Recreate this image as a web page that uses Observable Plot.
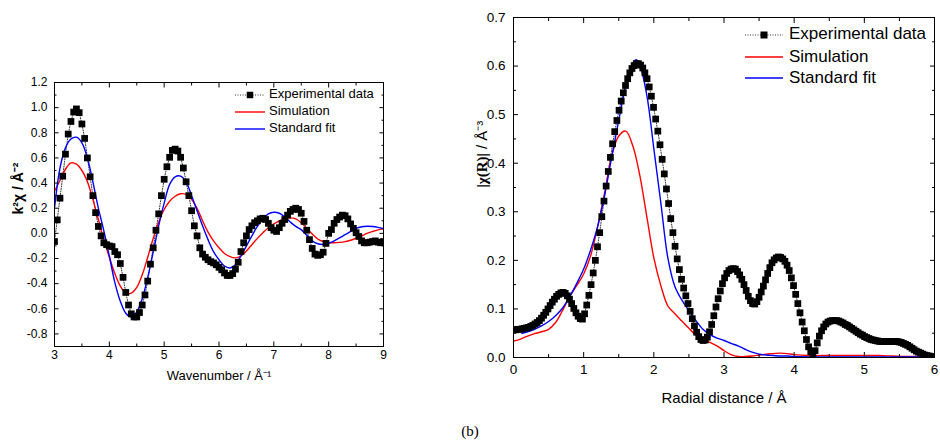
<!DOCTYPE html>
<html><head><meta charset="utf-8">
<script src="https://cdn.jsdelivr.net/npm/d3@7"></script>
<script src="https://cdn.jsdelivr.net/npm/@observablehq/plot@0.6"></script>
<style>
body{margin:0;background:#fff;}
#wrap{position:relative;width:940px;height:441px;overflow:hidden;background:#fff;font-family:"Liberation Sans",Arial,sans-serif;color:#000;}
.panel{position:absolute;top:0;}
#left{left:0px;} #right{left:470px;}
.lg{position:absolute;white-space:nowrap;line-height:1.15;}
#caption{position:absolute;left:0;width:940px;text-align:center;top:423px;font-family:"Liberation Serif","DejaVu Serif",serif;font-size:15px;}
</style></head>
<body>
<div id="wrap">
  <div id="left" class="panel"></div>
  <div id="right" class="panel"></div>
  <div id="caption">(b)</div>
</div>
<script>
// ---------- Left panel: k-space (k from 3 to 9) ----------
const kExpStart = 3.0, kExpStep = 0.05;
const kExpY = [
 -0.065, 0.107, 0.28, 0.455, 0.63, 0.79, 0.89, 0.965, 0.99, 0.96,
 0.87, 0.755, 0.60, 0.45, 0.30, 0.165, 0.055, -0.02, -0.075, -0.09,
 -0.10, -0.105, -0.145, -0.17, -0.24, -0.35, -0.47, -0.57, -0.64, -0.665,
 -0.665, -0.63, -0.57, -0.49, -0.38, -0.245, -0.115, 0.025, 0.155, 0.30,
 0.43, 0.53, 0.605, 0.66, 0.67, 0.655, 0.605, 0.52, 0.41, 0.30,
 0.18, 0.06, -0.02, -0.115, -0.165, -0.19, -0.21, -0.225, -0.235, -0.25,
 -0.27, -0.29, -0.315, -0.335, -0.335, -0.32, -0.285, -0.23, -0.145, -0.075,
 -0.02, 0.03, 0.06, 0.085, 0.10, 0.115, 0.12, 0.11, 0.08, 0.045,
 0.025, 0.015, 0.045, 0.08, 0.11, 0.145, 0.175, 0.19, 0.20, 0.19,
 0.16, 0.095, 0.025, -0.05, -0.12, -0.165, -0.175, -0.17, -0.15, -0.08,
 0.0, 0.03, 0.08, 0.11, 0.13, 0.145, 0.14, 0.115, 0.075, 0.04,
 0.005, -0.025, -0.06, -0.075, -0.075, -0.07, -0.065, -0.06, -0.07, -0.075,
 -0.065
];
const kLineStart = 3.0, kLineStep = 0.1;
const kSimY = [
 0.335, 0.42, 0.51, 0.56, 0.55, 0.50, 0.41, 0.27, 0.11, -0.05,
 -0.19, -0.32, -0.42, -0.475, -0.475, -0.43, -0.33, -0.19, -0.04, 0.09,
 0.19, 0.255, 0.295, 0.315, 0.31, 0.27, 0.20, 0.10, 0.01, -0.06,
 -0.115, -0.16, -0.185, -0.195, -0.18, -0.14, -0.09, -0.04, 0.005, 0.045,
 0.075, 0.10, 0.117, 0.123, 0.115, 0.085, 0.04, -0.005, -0.045, -0.065,
 -0.073, -0.075, -0.072, -0.066, -0.055, -0.038, -0.02, 0.0, 0.015, 0.028,
 0.038
];
const kFitY = [
 0.20, 0.52, 0.68, 0.75, 0.765, 0.72, 0.60, 0.41, 0.20, 0.02,
 -0.18, -0.39, -0.54, -0.635, -0.665, -0.625, -0.52, -0.35, -0.15, 0.06,
 0.24, 0.39, 0.45, 0.455, 0.41, 0.30, 0.18, 0.06, -0.05, -0.145,
 -0.21, -0.26, -0.275, -0.25, -0.18, -0.10, -0.02, 0.055, 0.115, 0.155,
 0.168, 0.16, 0.13, 0.09, 0.055, 0.03, -0.015, -0.06, -0.083, -0.089,
 -0.08, -0.06, -0.036, -0.01, 0.015, 0.04, 0.053, 0.057, 0.055, 0.048,
 0.038
];
const kXMajor = [3, 4, 5, 6, 7, 8, 9];
const kXMinor = [3.5, 4.5, 5.5, 6.5, 7.5, 8.5];
const kYMajor = [-0.8, -0.6, -0.4, -0.2, 0.0, 0.2, 0.4, 0.6, 0.8, 1.0, 1.2];
const kYMinor = [-0.9, -0.7, -0.5, -0.3, -0.1, 0.1, 0.3, 0.5, 0.7, 0.9, 1.1];

// ---------- Right panel: R-space (R from 0 to 6) ----------
const rExpStart = 0.0, rExpStep = 0.0307;
const rExpY = [
 0.057, 0.057, 0.058, 0.058, 0.059, 0.060, 0.061, 0.062, 0.064, 0.066,
 0.069, 0.072, 0.076, 0.081, 0.087, 0.093, 0.100, 0.107, 0.114, 0.120,
 0.126, 0.130, 0.133, 0.134, 0.132, 0.127, 0.120, 0.111, 0.101, 0.092,
 0.085, 0.080, 0.079, 0.090, 0.108, 0.128, 0.150, 0.174, 0.200, 0.228,
 0.257, 0.290, 0.322, 0.353, 0.383, 0.412, 0.440, 0.465, 0.488, 0.509,
 0.528, 0.545, 0.560, 0.574, 0.586, 0.595, 0.601, 0.605, 0.605, 0.602,
 0.596, 0.586, 0.574, 0.557, 0.538, 0.515, 0.491, 0.466, 0.438, 0.408,
 0.378, 0.347, 0.317, 0.286, 0.257, 0.229, 0.203, 0.181, 0.161, 0.143,
 0.127, 0.111, 0.095, 0.080, 0.065, 0.052, 0.043, 0.037, 0.035, 0.036,
 0.042, 0.053, 0.068, 0.086, 0.104, 0.121, 0.137, 0.152, 0.164, 0.173,
 0.179, 0.182, 0.183, 0.182, 0.177, 0.170, 0.161, 0.150, 0.138, 0.126,
 0.117, 0.111, 0.110, 0.115, 0.124, 0.135, 0.147, 0.160, 0.173, 0.185,
 0.195, 0.201, 0.205, 0.207, 0.206, 0.203, 0.198, 0.190, 0.179, 0.164,
 0.148, 0.130, 0.111, 0.092, 0.073, 0.055, 0.037, 0.022, 0.012, 0.008,
 0.014, 0.030, 0.044, 0.055, 0.063, 0.069, 0.073, 0.075, 0.076, 0.076,
 0.076, 0.075, 0.073, 0.071, 0.068, 0.066, 0.063, 0.060, 0.057, 0.054,
 0.051, 0.048, 0.046, 0.043, 0.041, 0.039, 0.037, 0.036, 0.035, 0.034,
 0.033, 0.033, 0.033, 0.033, 0.033, 0.033, 0.033, 0.033, 0.033, 0.032,
 0.031, 0.029, 0.027, 0.025, 0.022, 0.019, 0.016, 0.013, 0.011, 0.009,
 0.007, 0.005, 0.004, 0.003, 0.002, 0.001
];
const rSimX = [0.0,0.1,0.2,0.3,0.4,0.5,0.6,0.7,0.8,0.9,1.0,1.1,1.2,1.3,1.4,1.5,1.6,1.7,1.8,1.9,
 2.0,2.1,2.2,2.3,2.4,2.5,2.6,2.7,2.8,2.9,3.0,3.1,3.2,3.3,3.4,3.5,3.6,3.7,3.8,3.9,
 4.0,4.2,4.4,4.6,4.8,5.0,5.2,5.4,5.6,5.8,6.0];
const rSimY = [0.034,0.038,0.044,0.049,0.053,0.058,0.072,0.097,0.125,0.148,0.172,0.21,0.27,0.34,0.415,0.456,0.466,0.436,0.375,0.29,
 0.205,0.148,0.106,0.09,0.075,0.06,0.046,0.037,0.031,0.024,0.014,0.006,0.002,0.002,0.003,0.005,0.007,0.008,0.009,0.008,
 0.006,0.004,0.004,0.004,0.004,0.004,0.004,0.003,0.002,0.002,0.002];
const rFitX = [0.12,0.2,0.3,0.4,0.5,0.6,0.7,0.8,0.9,1.0,1.1,1.2,1.3,1.4,1.5,1.6,1.7,1.75,1.8,1.9,
 2.0,2.1,2.2,2.3,2.4,2.5,2.6,2.7,2.8,2.9,3.0,3.1,3.2,3.3,3.4,3.5,3.6,3.7,3.8,3.9,
 4.0,4.5,5.0,5.5,6.0];
const rFitY = [0.050,0.053,0.058,0.065,0.074,0.086,0.102,0.125,0.152,0.182,0.222,0.27,0.335,0.413,0.488,0.56,0.606,0.613,0.603,0.54,
 0.43,0.318,0.205,0.146,0.118,0.097,0.076,0.058,0.047,0.040,0.035,0.029,0.024,0.017,0.011,0.007,0.005,0.004,0.003,0.003,
 0.002,0.001,0.001,0.001,0.001];
const rXMajor = [0, 1, 2, 3, 4, 5, 6];
const rXMinor = [0.5, 1.5, 2.5, 3.5, 4.5, 5.5];
const rYMajor = [0.0, 0.1, 0.2, 0.3, 0.4, 0.5, 0.6, 0.7];
const rYMinor = [0.05, 0.15, 0.25, 0.35, 0.45, 0.55, 0.65];

const seriesNames = ["Experimental data", "Simulation", "Standard fit"];
const seriesColors = ["#333333", "#ff0000", "#0000ff"];

// ---------- build tables ----------
const kExp = kExpY.map((y, i) => ({x: kExpStart + i * kExpStep, y}));
const kSim = kSimY.map((y, i) => ({x: kLineStart + i * kLineStep, y}));
const kFit = kFitY.map((y, i) => ({x: kLineStart + i * kLineStep, y}));
const rExp = rExpY.map((y, i) => ({x: rExpStart + i * rExpStep, y}));
const rSim = rSimY.map((y, i) => ({x: rSimX[i], y}));
const rFit = rFitY.map((y, i) => ({x: rFitX[i], y}));

const FONT = "Liberation Sans, Arial, sans-serif";
const blank = () => "";

function frameAxes(o) {
  return [
    Plot.axisX(o.xMajor, {anchor: "bottom", tickSize: -o.majorLen, tickFormat: blank, label: null}),
    Plot.axisX(o.xMinor, {anchor: "bottom", tickSize: -o.minorLen, tickFormat: blank, label: null}),
    Plot.axisX(o.xMajor, {anchor: "top", tickSize: -o.majorLen, tickFormat: blank, label: null}),
    Plot.axisX(o.xMinor, {anchor: "top", tickSize: -o.minorLen, tickFormat: blank, label: null}),
    Plot.axisY(o.yMajor, {anchor: "left", tickSize: -o.majorLen, tickFormat: blank, label: null}),
    Plot.axisY(o.yMinor, {anchor: "left", tickSize: -o.minorLen, tickFormat: blank, label: null}),
    Plot.axisY(o.yMajor, {anchor: "right", tickSize: -o.majorLen, tickFormat: blank, label: null}),
    Plot.axisY(o.yMinor, {anchor: "right", tickSize: -o.minorLen, tickFormat: blank, label: null}),
    Plot.axisX(o.xMajor, {anchor: "bottom", tickSize: 0, tickPadding: o.xPad, tickFormat: o.xFmt, fontSize: o.fontSize, label: null}),
    Plot.axisY(o.yMajor, {anchor: "left", tickSize: 0, tickPadding: o.yPad, tickFormat: o.yFmt, fontSize: o.fontSize, label: null})
  ];
}

const leftPlot = Plot.plot({
  width: 470, height: 441,
  marginLeft: 54, marginRight: 87, marginTop: 82, marginBottom: 95,
  style: {fontFamily: FONT, background: "transparent", color: "black", overflow: "visible"},
  x: {domain: [3, 9], label: null},
  y: {domain: [-0.9, 1.2], label: null},
  marks: [
    Plot.line(kExp, {x: "x", y: "y", stroke: seriesColors[0], strokeWidth: 1, strokeDasharray: "1,1.5", clip: true}),
    Plot.line(kSim, {x: "x", y: "y", stroke: seriesColors[1], strokeWidth: 1.4, curve: "catmull-rom", clip: true}),
    Plot.line(kFit, {x: "x", y: "y", stroke: seriesColors[2], strokeWidth: 1.4, curve: "catmull-rom", clip: true}),
    Plot.dot(kExp, {x: "x", y: "y", symbol: "square", fill: "black", r: 3.8, clip: true}),
    Plot.frame({stroke: "black", strokeWidth: 1}),
    ...frameAxes({xMajor: kXMajor, xMinor: kXMinor, yMajor: kYMajor, yMinor: kYMinor,
      majorLen: 4.5, minorLen: 2.5, fontSize: 12, xPad: 4, yPad: 7,
      xFmt: d => String(d), yFmt: d => d.toFixed(1)}),
    Plot.text(["Wavenumber / Å\u207B\u00B9"], {text: d => d, frameAnchor: "bottom", dy: 33, fontSize: 13}),
    Plot.text(["k\u00B2\u03C7 / Å\u207B\u00B2"], {text: d => d, frameAnchor: "left", dx: -36, rotate: -90, fontSize: 14, fontWeight: "bold"})
  ]
});
document.getElementById("left").appendChild(leftPlot);

const rYTitle = "|\u03C7(R)| / Å\u207B\u00B3";
const rightPlot = Plot.plot({
  width: 470, height: 441,
  marginLeft: 43, marginRight: 6, marginTop: 17, marginBottom: 84,
  style: {fontFamily: FONT, background: "transparent", color: "black", overflow: "visible"},
  x: {domain: [0, 6], label: null},
  y: {domain: [0, 0.7], label: null},
  marks: [
    Plot.line(rExp, {x: "x", y: "y", stroke: seriesColors[0], strokeWidth: 1, strokeDasharray: "1,1.5", clip: true}),
    Plot.line(rSim, {x: "x", y: "y", stroke: seriesColors[1], strokeWidth: 1.4, curve: "catmull-rom", clip: true}),
    Plot.line(rFit, {x: "x", y: "y", stroke: seriesColors[2], strokeWidth: 1.4, curve: "catmull-rom", clip: true}),
    Plot.dot(rExp, {x: "x", y: "y", symbol: "square", fill: "black", r: 3.8, clip: true}),
    Plot.frame({stroke: "black", strokeWidth: 1}),
    ...frameAxes({xMajor: rXMajor, xMinor: rXMinor, yMajor: rYMajor, yMinor: rYMinor,
      majorLen: 5, minorLen: 3, fontSize: 13.5, xPad: 7, yPad: 8,
      xFmt: d => String(d), yFmt: d => d.toFixed(1)}),
    Plot.text(["Radial distance / Å"], {text: d => d, frameAnchor: "bottom", dy: 45, fontSize: 15}),
    Plot.text([rYTitle], {text: d => d, frameAnchor: "left", dx: -31, rotate: -90, fontSize: 15})
  ]
});
document.getElementById("right").appendChild(rightPlot);

// style the |χ(R)| part of the right y title in a serif face, as in the reference
d3.select(rightPlot).selectAll("text").each(function() {
  if (this.textContent === rYTitle) {
    const t = d3.select(this);
    t.text(null);
    t.append("tspan").style("font-family", "Liberation Serif, DejaVu Serif, serif").style("font-weight", "bold").text("|\u03C7(R)|");
    t.append("tspan").text(" / Å\u207B\u00B3");
  }
});

// ---------- legends (HTML overlays) ----------
function legend(cfg) {
  const wrap = d3.select("#wrap");
  seriesNames.forEach((name, i) => {
    const y = cfg.ys[i];
    const w = cfg.x1 - cfg.x0;
    const svg = wrap.append("svg").style("position", "absolute")
      .style("left", cfg.x0 + "px").style("top", (y - 6) + "px")
      .attr("width", w).attr("height", 12);
    svg.append("line").attr("x1", 0).attr("x2", w).attr("y1", 6).attr("y2", 6)
      .attr("stroke", seriesColors[i]).attr("stroke-width", i === 0 ? 1 : 1.4)
      .attr("stroke-dasharray", i === 0 ? "1,1.5" : null);
    if (i === 0) {
      svg.append("rect").attr("x", w / 2 - cfg.sq / 2).attr("y", 6 - cfg.sq / 2)
        .attr("width", cfg.sq).attr("height", cfg.sq).attr("fill", "black");
    }
    wrap.append("div").attr("class", "lg")
      .style("left", cfg.textX + "px")
      .style("top", (y - cfg.fs * 0.6) + "px")
      .style("font-size", cfg.fs + "px")
      .text(name);
  });
}
legend({x0: 235, x1: 265, textX: 269, ys: [95, 111.7, 128.5], fs: 13, sq: 6.5});
legend({x0: 745, x1: 783, textX: 789, ys: [34.5, 56.7, 78], fs: 17, sq: 7});
</script>
</body></html>
